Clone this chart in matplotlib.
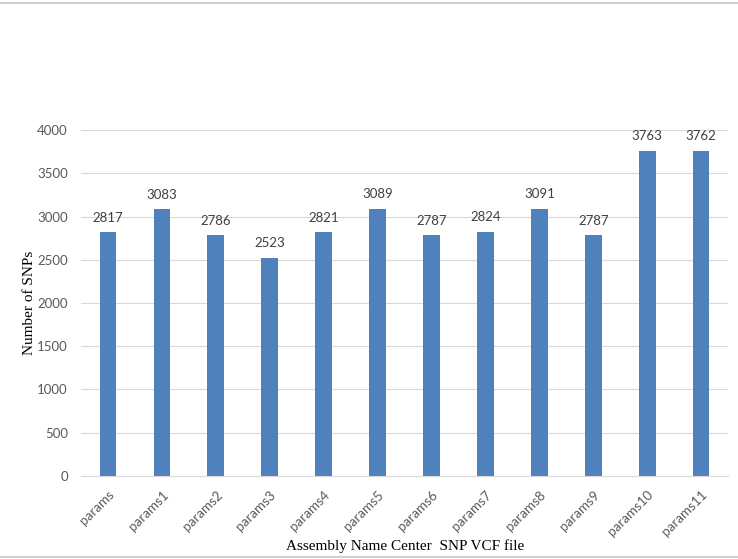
import matplotlib.pyplot as plt
from matplotlib.lines import Line2D

categories = ["params", "params1", "params2", "params3", "params4", "params5",
              "params6", "params7", "params8", "params9", "params10", "params11"]
snps = [2817, 3083, 2786, 2523, 2821, 3089, 2787, 2824, 3091, 2787, 3763, 3762]
yticks = [0, 500, 1000, 1500, 2000, 2500, 3000, 3500, 4000]

fig = plt.figure(figsize=(7.38, 5.59), dpi=100)
ax = fig.add_axes([0.1098, 0.1485, 0.8767, 0.6189])

x = range(len(categories))
bars = ax.bar(x, snps, width=0.31, color="#4F81BD", zorder=2)
ax.bar_label(bars, labels=[str(v) for v in snps], padding=6,
             fontsize=9.5, color="#404040", family="Lato")

ax.set_xlim(-0.5, len(categories) - 0.5)
ax.set_ylim(0, 4000)
ax.set_yticks(yticks)
ax.set_xticks(list(x))
ax.set_xticklabels(categories, rotation=45, ha="right", rotation_mode="anchor",
                   fontsize=9.6, color="#595959", family="Lato")
for lbl in ax.get_yticklabels():
    lbl.set_fontsize(9.5)
    lbl.set_color("#595959")
    lbl.set_family("Lato")

ax.grid(axis="y", color="#D9D9D9", linewidth=0.8, zorder=0)
ax.tick_params(axis="y", length=0, pad=9.5)
ax.tick_params(axis="x", length=0, pad=9)
for side in ["top", "right", "left"]:
    ax.spines[side].set_visible(False)
ax.spines["bottom"].set_color("#D9D9D9")

ax.set_ylabel("Number of SNPs", family="Liberation Serif", fontsize=11, labelpad=1)
fig.text(0.549, 0.023, "Assembly Name Center  SNP VCF file",
         family="Liberation Serif", fontsize=11, ha="center", va="center")

# thin frame lines at top and bottom of the picture
fig.add_artist(Line2D([0, 1], [0.995, 0.995], color="#D0D0D0", linewidth=1.5))
fig.add_artist(Line2D([0, 1], [0.004, 0.004], color="#D0D0D0", linewidth=1.5))

fig.savefig("out.png", dpi=100)
